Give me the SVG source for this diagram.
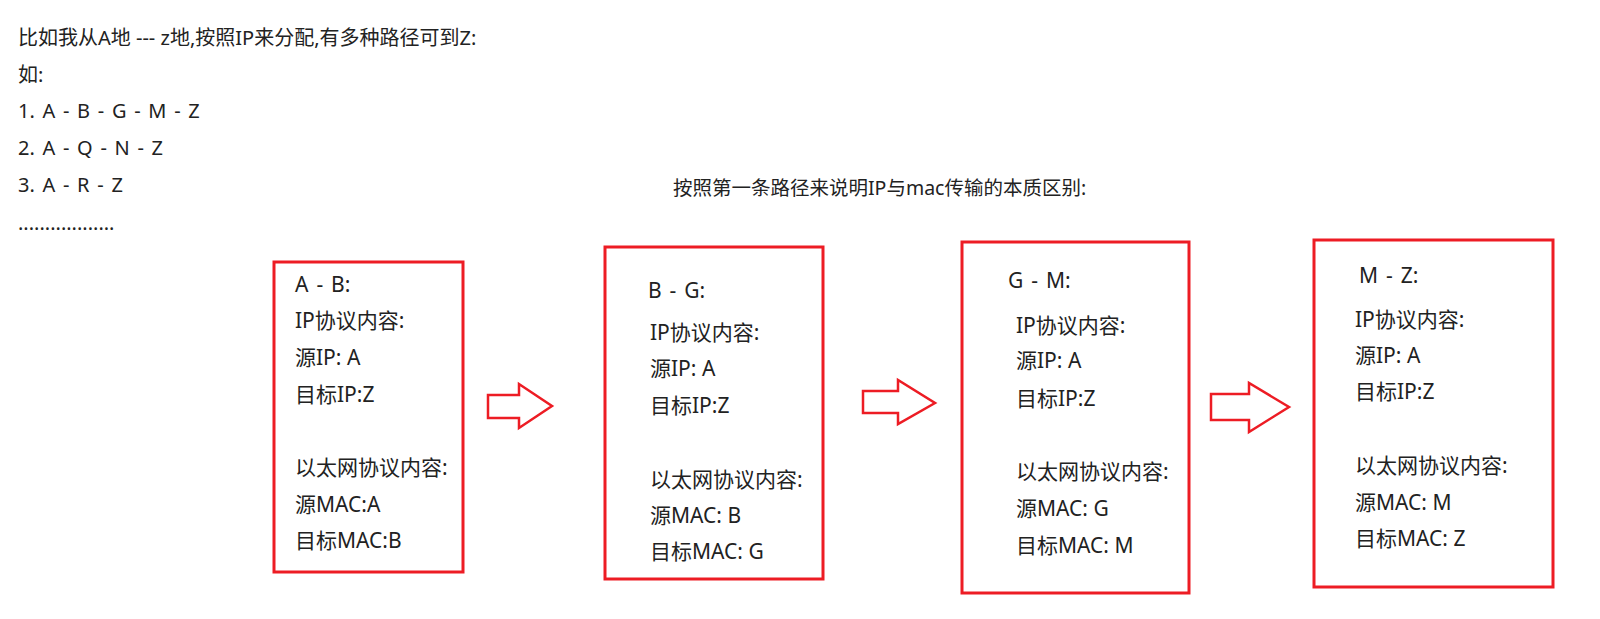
<svg xmlns="http://www.w3.org/2000/svg" width="1600" height="619" viewBox="0 0 1600 619">
<style>
text{font-family:"Noto Sans","Noto Sans CJK SC",sans-serif;fill:#222;}
.top{font-size:20px;}
.title{font-size:19.5px;}
.bx{font-size:21px;}
.sp{word-spacing:2.5px;}
.box{fill:#fff;stroke:#ED1C24;stroke-width:3;}
.arr{fill:#fff;stroke:#ED1C24;stroke-width:2.5;stroke-linejoin:miter;}
</style>
<rect width="1600" height="619" fill="#fff"/>
<g id="intro" class="top">
<text x="18" y="45">比如我从A地 --- z地,按照IP来分配,有多种路径可到Z:</text>
<text x="18" y="82">如:</text>
<text class="sp" x="18" y="118">1. A - B - G - M - Z</text>
<text class="sp" x="18" y="155">2. A - Q - N - Z</text>
<text class="sp" x="18" y="192">3. A - R - Z</text>
<text x="18" y="230">..................</text>
</g>
<g id="title"><text class="title" x="673" y="195">按照第一条路径来说明IP与mac传输的本质区别:</text></g>
<g id="node-ab">
<rect class="box" x="274" y="262" width="189" height="310"/>
<g class="bx">
<text class="sp" x="295" y="292">A - B:</text>
<text x="295" y="328">IP协议内容:</text>
<text x="295" y="365">源IP: A</text>
<text x="295" y="402">目标IP:Z</text>
<text x="295" y="475">以太网协议内容:</text>
<text x="295" y="512">源MAC:A</text>
<text x="295" y="548">目标MAC:B</text>
</g>
</g>
<g id="node-bg">
<rect class="box" x="605" y="247" width="218" height="332"/>
<g class="bx">
<text class="sp" x="648" y="298">B - G:</text>
<text x="650" y="340">IP协议内容:</text>
<text x="650" y="376">源IP: A</text>
<text x="650" y="413">目标IP:Z</text>
<text x="650" y="487">以太网协议内容:</text>
<text x="650" y="523">源MAC: B</text>
<text x="650" y="559">目标MAC: G</text>
</g>
</g>
<g id="node-gm">
<rect class="box" x="962" y="242" width="227" height="351"/>
<g class="bx">
<text class="sp" x="1008" y="288">G - M:</text>
<text x="1016" y="333">IP协议内容:</text>
<text x="1016" y="368">源IP: A</text>
<text x="1016" y="406">目标IP:Z</text>
<text x="1016" y="479">以太网协议内容:</text>
<text x="1016" y="516">源MAC: G</text>
<text x="1016" y="553">目标MAC: M</text>
</g>
</g>
<g id="node-mz">
<rect class="box" x="1314" y="240" width="239" height="347"/>
<g class="bx">
<text class="sp" x="1359" y="283">M - Z:</text>
<text x="1355" y="327">IP协议内容:</text>
<text x="1355" y="363">源IP: A</text>
<text x="1355" y="399">目标IP:Z</text>
<text x="1355" y="473">以太网协议内容:</text>
<text x="1355" y="510">源MAC: M</text>
<text x="1355" y="546">目标MAC: Z</text>
</g>
</g>
<g id="connectors">
<polygon class="arr" points="488,395 519,395 519,384 552,406 519,428 519,418 488,418"/>
<polygon class="arr" points="863,391 898,391 898,380 935,403 898,424 898,413 863,413"/>
<polygon class="arr" points="1211,394 1249,394 1249,383 1289,407 1249,432 1249,420 1211,420"/>
</g>
</svg>
